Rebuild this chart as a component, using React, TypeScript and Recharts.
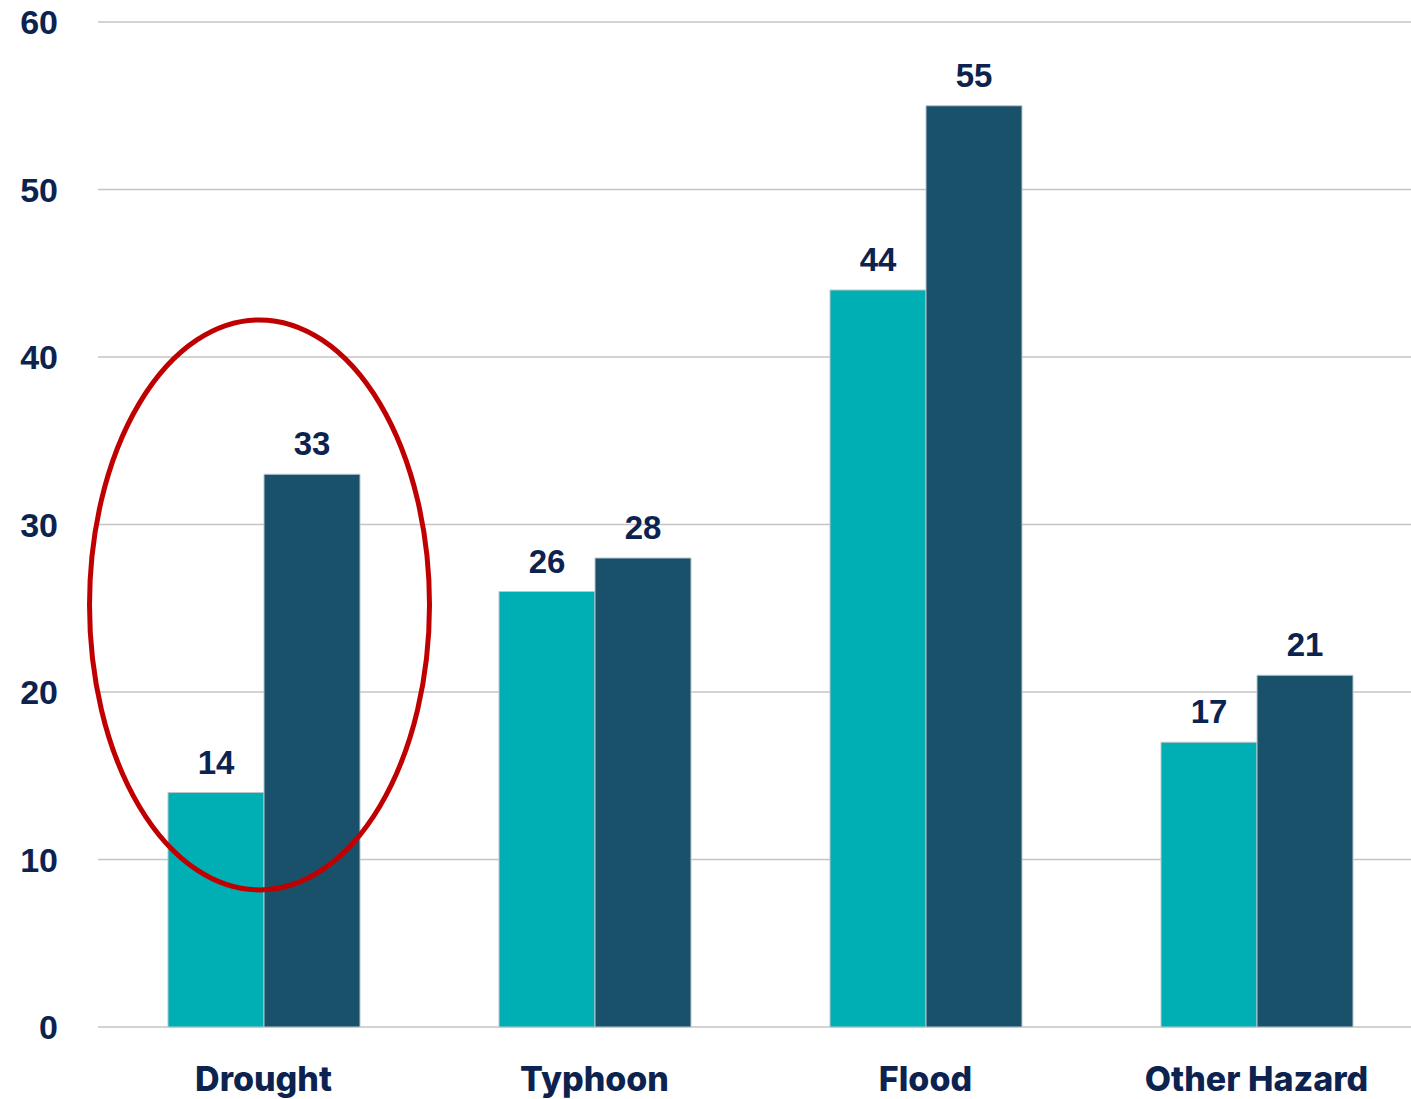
import { BarChart, Bar, XAxis, YAxis, CartesianGrid, LabelList, ReferenceDot } from "recharts";

const categories = ["Drought", "Typhoon", "Flood", "Other Hazard"];
const seriesA = [14, 26, 44, 17];
const seriesB = [33, 28, 55, 21];
const yTicks = [0, 10, 20, 30, 40, 50, 60];

const data = categories.map((name, i) => ({ name, a: seriesA[i], b: seriesB[i] }));

const NAVY = "#0c2350";

const HighlightEllipse = (props: any) => (
  <ellipse
    cx={props.cx - 4}
    cy={props.cy}
    rx={170}
    ry={285}
    fill="none"
    stroke="#c00000"
    strokeWidth={5}
  />
);

export default function App() {
  return (
    <div style={{ position: "fixed", left: 0, top: 0, width: 1411, height: 1099, overflow: "hidden", background: "#fff" }}>
      <BarChart
        width={1424}
        height={1112}
        data={data}
        margin={{ top: 22, right: 2, bottom: 0, left: 0 }}
        barGap={0}
        barCategoryGap={70}
      >
        <CartesianGrid vertical={false} stroke="#c4c4c4" strokeWidth={1.5} />
        <XAxis
          dataKey="name"
          axisLine={false}
          tickLine={false}
          tickSize={0}
          tickMargin={40}
          height={85}
          interval={0}
          tick={{ fill: NAVY, fontSize: 34, fontWeight: 800, fontFamily: "Inter, sans-serif" }}
        />
        <YAxis
          domain={[0, 60]}
          ticks={yTicks}
          axisLine={false}
          tickLine={false}
          tickSize={0}
          tickMargin={40}
          width={98}
          tick={{ fill: NAVY, fontSize: 34, fontWeight: 700, fontFamily: "'Liberation Sans', Arial, sans-serif" }}
        />
        <Bar dataKey="a" fill="#00afb4" stroke="#b9c6cc" strokeWidth={1} isAnimationActive={false}>
          <LabelList
            dataKey="a"
            position="top"
            offset={19}
            fill={NAVY}
            fontSize={33}
            fontWeight={700}
            fontFamily="'Liberation Sans', Arial, sans-serif"
          />
        </Bar>
        <Bar dataKey="b" fill="#1a516a" stroke="#b9c6cc" strokeWidth={1} isAnimationActive={false}>
          <LabelList
            dataKey="b"
            position="top"
            offset={19}
            fill={NAVY}
            fontSize={33}
            fontWeight={700}
            fontFamily="'Liberation Sans', Arial, sans-serif"
          />
        </Bar>
        <ReferenceDot x="Drought" y={25.2} shape={HighlightEllipse} ifOverflow="visible" />
      </BarChart>
    </div>
  );
}
